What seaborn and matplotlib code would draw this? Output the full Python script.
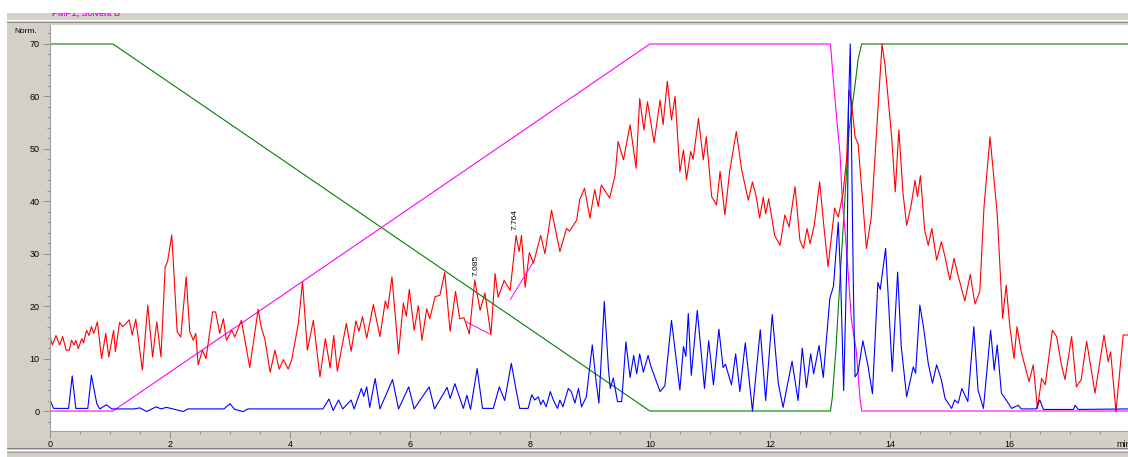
import matplotlib
matplotlib.use("Agg")
import matplotlib.pyplot as plt
from matplotlib.patches import Rectangle
from matplotlib.lines import Line2D
from matplotlib.ticker import MultipleLocator, FixedLocator
import seaborn as sns
import pandas as pd

# ---------------- data ----------------
red_t = [0.00, 0.04, 0.10, 0.16, 0.21, 0.27, 0.32, 0.36, 0.40, 0.43, 0.47, 0.53, 0.56, 0.61, 0.65, 0.69, 0.73, 0.79,
         0.86, 0.93, 0.98, 1.06, 1.09, 1.16, 1.21, 1.26, 1.32, 1.37, 1.43, 1.54, 1.63, 1.71, 1.78, 1.85, 1.92, 1.96,
         2.03, 2.12, 2.18, 2.27, 2.33, 2.39, 2.43, 2.47, 2.54, 2.60, 2.71, 2.76, 2.83, 2.89, 2.94, 3.03, 3.08, 3.19,
         3.33, 3.47, 3.52, 3.58, 3.67, 3.75, 3.82, 3.89, 3.97, 4.03, 4.14, 4.21, 4.29, 4.39, 4.50, 4.59, 4.67, 4.73,
         4.79, 4.94, 5.02, 5.10, 5.15, 5.21, 5.28, 5.39, 5.50, 5.59, 5.63, 5.70, 5.81, 5.89, 5.94, 5.99, 6.07, 6.14,
         6.20, 6.28, 6.33, 6.42, 6.50, 6.58, 6.67, 6.76, 6.83, 6.90, 6.99, 7.08, 7.17, 7.25, 7.35, 7.42, 7.47, 7.57,
         7.67, 7.77, 7.82, 7.86, 7.92, 7.99, 8.06, 8.18, 8.25, 8.36, 8.50, 8.61, 8.66, 8.78, 8.83, 8.91, 9.00, 9.08,
         9.14, 9.19, 9.33, 9.42, 9.47, 9.56, 9.67, 9.77, 9.83, 9.90, 9.96, 10.07, 10.17, 10.22, 10.29, 10.36, 10.42,
         10.50, 10.56, 10.61, 10.68, 10.72, 10.81, 10.89, 10.94, 11.03, 11.11, 11.17, 11.25, 11.33, 11.44, 11.53,
         11.64, 11.71, 11.77, 11.83, 11.89, 11.93, 11.98, 12.08, 12.17, 12.25, 12.32, 12.42, 12.50, 12.56, 12.62,
         12.67, 12.74, 12.83, 12.89, 12.97, 13.08, 13.14, 13.22, 13.28, 13.32, 13.36, 13.42, 13.47, 13.61, 13.69,
         13.79, 13.87, 13.92, 14.03, 14.09, 14.15, 14.22, 14.28, 14.35, 14.42, 14.46, 14.51, 14.58, 14.64, 14.70,
         14.78, 14.86, 14.92, 15.00, 15.07, 15.14, 15.25, 15.34, 15.42, 15.50, 15.57, 15.67, 15.79, 15.88, 15.94,
         16.00, 16.07, 16.12, 16.19, 16.32, 16.39, 16.46, 16.53, 16.59, 16.71, 16.78, 16.86, 16.92, 17.03, 17.11,
         17.19, 17.28, 17.42, 17.57, 17.64, 17.68, 17.77, 17.89, 17.97]
red_v = [14.2, 12.6, 14.4, 12.6, 14.2, 11.6, 11.6, 13.5, 12.6, 13.5, 11.9, 13.8, 13.0, 15.4, 14.4, 16.1, 14.8, 17.0,
         10.0, 14.8, 10.3, 15.4, 11.3, 16.9, 16.1, 16.6, 17.4, 14.5, 17.5, 7.8, 20.2, 10.3, 17.0, 10.3, 27.5, 28.5,
         33.6, 15.1, 14.1, 25.6, 15.1, 13.5, 14.8, 8.8, 11.6, 10.0, 18.9, 18.9, 14.8, 17.6, 13.5, 15.4, 14.1, 17.3,
         8.3, 19.4, 16.0, 13.8, 7.4, 11.6, 8.0, 9.8, 8.0, 9.8, 16.7, 24.7, 11.6, 17.3, 6.5, 13.8, 8.2, 14.4,
         7.6, 16.7, 11.4, 17.2, 15.2, 18.0, 13.9, 20.3, 14.2, 21.0, 19.5, 25.6, 10.9, 20.6, 18.1, 23.2, 15.4, 20.1,
         13.5, 19.5, 17.6, 21.8, 22.1, 26.4, 15.2, 22.8, 17.6, 17.8, 14.7, 25.0, 19.2, 22.5, 14.5, 26.2, 21.7, 24.9,
         23.0, 33.5, 30.4, 33.5, 23.6, 30.2, 28.2, 33.5, 30.0, 38.3, 30.4, 34.8, 34.3, 36.4, 40.3, 42.5, 36.8, 42.2,
         39.0, 43.1, 40.6, 45.0, 51.4, 47.9, 54.6, 46.3, 59.6, 53.6, 59.0, 51.2, 59.3, 54.6, 62.9, 55.5, 60.0,
         45.6, 49.8, 44.1, 49.5, 48.0, 55.8, 47.9, 52.3, 40.9, 39.3, 45.7, 37.4, 45.7, 53.3, 46.0,
         40.2, 43.7, 41.0, 36.8, 40.8, 37.6, 40.5, 33.5, 31.6, 37.4, 35.1, 42.8, 32.6, 31.0, 34.8,
         31.9, 35.4, 43.7, 36.4, 27.5, 38.7, 37.0, 41.5, 48.2, 61.2, 58.9, 52.3, 51.0, 31.0, 37.0,
         55.5, 70.0, 66.0, 52.3, 41.8, 53.6, 41.5, 35.4, 38.9, 44.0, 40.9, 44.9, 34.5, 31.6, 34.8,
         28.8, 32.3, 29.4, 25.0, 29.1, 25.7, 21.0, 26.0, 20.4, 22.8, 39.0, 52.3, 37.6, 17.7, 24.0,
         16.1, 10.0, 16.1, 11.3, 5.6, 8.8, 0.5, 6.2, 5.0, 15.4, 14.2, 8.8, 6.0, 14.2, 4.6,
         6.0, 13.3, 3.4, 14.5, 9.4, 11.3, -0.1, 14.5, 14.5]

blue_t = [0.00, 0.06, 0.31, 0.37, 0.43, 0.63, 0.69, 0.78, 0.83, 0.94, 1.03, 1.40, 1.50, 1.61, 1.70, 1.77, 1.85,
          1.94, 2.05, 2.22, 2.30, 2.90, 3.00, 3.08, 3.22, 3.30, 4.55, 4.65, 4.72, 4.81, 4.88, 5.02, 5.07, 5.19,
          5.23, 5.28, 5.33, 5.42, 5.50, 5.71, 5.81, 5.98, 6.07, 6.32, 6.41, 6.62, 6.67, 6.75, 6.89, 6.95, 7.01,
          7.12, 7.21, 7.39, 7.49, 7.58, 7.69, 7.78, 7.83, 7.97, 8.03, 8.08, 8.14, 8.18, 8.22, 8.27, 8.34, 8.39,
          8.46, 8.50, 8.55, 8.64, 8.69, 8.75, 8.81, 8.86, 8.94, 9.04, 9.10, 9.15, 9.24, 9.31, 9.34, 9.39, 9.46,
          9.53, 9.60, 9.67, 9.73, 9.78, 9.83, 9.89, 9.97, 10.02, 10.17, 10.25, 10.36, 10.42, 10.50, 10.56, 10.60,
          10.64, 10.69, 10.79, 10.91, 10.98, 11.06, 11.15, 11.22, 11.26, 11.36, 11.43, 11.50, 11.59, 11.71, 11.84,
          11.93, 12.04, 12.14, 12.22, 12.37, 12.47, 12.54, 12.61, 12.68, 12.73, 12.82, 12.89, 13.00, 13.06, 13.14,
          13.18, 13.23, 13.29, 13.31, 13.34, 13.39, 13.42, 13.47, 13.55, 13.63, 13.71, 13.80, 13.84, 13.93, 14.04,
          14.13, 14.19, 14.28, 14.39, 14.43, 14.50, 14.56, 14.64, 14.71, 14.78, 14.86, 14.92, 15.03, 15.08, 15.14,
          15.20, 15.30, 15.40, 15.47, 15.56, 15.68, 15.74, 15.79, 15.86, 15.94, 16.03, 16.14, 16.19, 16.44, 16.50,
          16.56, 17.06, 17.09, 17.14, 17.97]
blue_v = [2.1, 0.5, 0.5, 6.7, 0.5, 0.5, 6.8, 1.4, 0.4, 1.2, 0.4, 0.4, 0.6, -0.1, 0.4, 0.8, 0.4,
          0.7, 0.4, -0.1, 0.4, 0.4, 1.4, 0.3, -0.1, 0.4, 0.4, 2.3, 0.1, 2.1, 0.4, 2.1, 0.4, 4.3,
          2.8, 4.6, 0.7, 6.2, 0.4, 6.0, 0.4, 4.6, 0.4, 4.6, 0.4, 4.5, 2.4, 5.2, 0.5, 3.0, 0.3,
          8.1, 0.5, 0.5, 4.6, 2.0, 9.1, 3.4, 0.5, 0.5, 3.1, 2.1, 2.7, 1.2, 2.1, 0.8, 3.7, 2.1,
          0.5, 2.1, 0.8, 4.3, 3.7, 1.5, 4.3, 0.8, 2.7, 12.6, 6.0, 1.5, 20.9, 7.9, 4.3, 6.3, 1.8,
          1.8, 13.2, 6.4, 10.6, 7.1, 10.9, 7.4, 10.6, 8.4, 3.7, 4.8, 17.3, 11.6, 4.0, 12.3, 10.4,
          18.6, 6.8, 19.2, 4.3, 13.4, 5.0, 15.6, 8.3, 8.9, 5.0, 10.9, 3.7, 13.0, 0.0, 15.5,
          2.0, 18.4, 5.3, 0.7, 9.5, 2.0, 12.0, 4.5, 10.9, 7.1, 12.5, 6.4, 21.5, 23.8, 36.0,
          25.2, 3.9, 31.7, 58.0, 70.0, 25.0, 6.5, 7.4, 13.4, 9.0, 3.3, 24.5, 23.2, 31.0, 7.5,
          26.5, 12.3, 2.7, 8.4, 7.2, 20.2, 16.1, 9.1, 5.3, 8.8, 5.9, 2.4, 0.5, 2.1, 1.5,
          4.3, 1.8, 16.1, 4.0, 0.5, 15.4, 7.8, 12.6, 3.4, 2.1, 0.5, 1.1, 0.4, 0.4, 2.1,
          0.3, 0.3, 1.1, 0.3, 0.4]

# pump gradient traces
solvB_t = [0.0, 1.05, 10.0, 13.01, 13.06, 13.12, 13.17, 13.21, 13.25, 13.31, 13.36, 13.44, 13.50, 13.53, 17.97]
solvB_v = [0, 0, 70, 70, 62.8, 55.0, 49.0, 39.6, 34.8, 25.6, 17.3, 11.6, 2.7, 0, 0]
solvA_t = [0.0, 1.05, 10.0, 13.01, 13.04, 13.10, 13.17, 13.27, 13.32, 13.42, 13.47, 13.53, 17.97]
solvA_v = [70, 70, 0, 0, 2.5, 11.6, 25.3, 44.1, 53.6, 62.2, 67.0, 70, 70]

# integration baselines and peak labels
base1_t = [6.94, 7.33]
base1_v = [17.0, 14.7]
base2_t = [7.67, 8.06]
base2_v = [21.2, 28.5]
peak_labels = ["7.085", "7.764"]
peak_t = [7.095, 7.745]
peak_v = [25.8, 34.6]

x_ticks = [0, 2, 4, 6, 8, 10, 12, 14, 16]
y_ticks = [0, 10, 20, 30, 40, 50, 60, 70]

# ---------------- drawing ----------------
sns.set_style("white")
plt.rcParams['font.family'] = ['Liberation Sans', 'DejaVu Sans']

W, H = 1128, 457
fig = plt.figure(figsize=(W / 100, H / 100), dpi=100)
GRAY = '#d4d0c8'
fig.patch.set_facecolor(GRAY)

def fx(px):
    return px / W

def fy(py):
    return 1 - py / H

ax = fig.add_axes([fx(50), fy(431), fx(1078), (431 - 25) / H])
ax.set_facecolor('white')

lw = 0.8
sns.lineplot(data=pd.DataFrame({'t': solvA_t, 'v': solvA_v}), x='t', y='v', ax=ax, color='#008000',
             linewidth=lw, sort=False, estimator=None)
sns.lineplot(data=pd.DataFrame({'t': solvB_t, 'v': solvB_v}), x='t', y='v', ax=ax, color='#ff00ff',
             linewidth=lw, sort=False, estimator=None)
sns.lineplot(data=pd.DataFrame({'t': red_t, 'v': red_v}), x='t', y='v', ax=ax, color='#ff0000',
             linewidth=lw, sort=False, estimator=None)
sns.lineplot(data=pd.DataFrame({'t': blue_t, 'v': blue_v}), x='t', y='v', ax=ax, color='#0000ff',
             linewidth=lw, sort=False, estimator=None)
for bt, bv in [(base1_t, base1_v), (base2_t, base2_v)]:
    sns.lineplot(x=bt, y=bv, ax=ax, color='#ff00ff', linewidth=0.7, sort=False, estimator=None)

for lab, t, v in zip(peak_labels, peak_t, peak_v):
    ax.text(t, v, lab, rotation=90, ha='center', va='bottom', fontsize=6, color='black')

ax.set_xlim(0, 17.97)
ax.set_ylim(-3.81, 73.62)
ax.set_xlabel('')
ax.set_ylabel('')

for s in ['top', 'right']:
    ax.spines[s].set_visible(False)
for s in ['left', 'bottom']:
    ax.spines[s].set_color('#a0a0a0')
    ax.spines[s].set_linewidth(0.8)

ax.xaxis.set_major_locator(FixedLocator(x_ticks))
ax.xaxis.set_minor_locator(MultipleLocator(0.5))
ax.yaxis.set_major_locator(FixedLocator(y_ticks))
ax.yaxis.set_minor_locator(MultipleLocator(2))
ax.set_xticklabels([str(v) for v in x_ticks])
ax.set_yticklabels([str(v) for v in y_ticks])
ax.tick_params(axis='both', which='major', length=5, width=0.7, color='#909090',
               labelsize=6.5, labelcolor='black', direction='out', bottom=True, left=True)
ax.tick_params(axis='both', which='minor', length=2.5, width=0.7, color='#909090',
               direction='out', bottom=True, left=True)
ax.tick_params(axis='x', which='major', pad=1.5)
ax.tick_params(axis='y', which='major', pad=2.5)

ax.text(-0.0, 72.4, 'Norm.', transform=ax.transData, ha='right', va='center', fontsize=6,
        color='black').set_position((-0.22, 72.4))
ax.text(17.78, -5.5, 'min', ha='left', va='top', fontsize=6.5, color='black', clip_on=False)

# frame decoration (window chrome)
fig.texts.append(fig.text(fx(52), fy(17.5), 'PMP1, Solvent B', color='#ff00ff', fontsize=6.5,
                          ha='left', va='bottom', zorder=5))
fig.add_artist(Rectangle((0, fy(13)), 1, 13 / H, transform=fig.transFigure, facecolor='white',
                         edgecolor='none', zorder=10))
fig.add_artist(Rectangle((0, 0), fx(7), 1, transform=fig.transFigure, facecolor='white',
                         edgecolor='none', zorder=10))
for py, c in [(20, '#ffffff'), (21.5, '#909090'), (448, '#808080'), (449.5, '#ffffff'), (452, '#a0a0a0')]:
    fig.add_artist(Line2D([fx(7), 1], [fy(py), fy(py)], transform=fig.transFigure, color=c,
                          linewidth=0.8, zorder=9))

fig.savefig('out.png', dpi=100, facecolor=fig.get_facecolor())
